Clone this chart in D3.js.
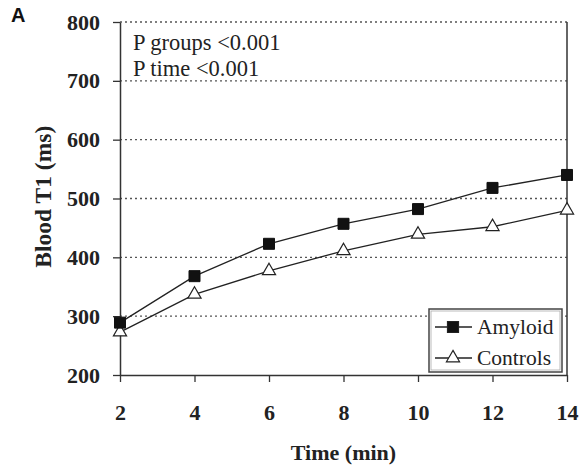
<!DOCTYPE html>
<html>
<head>
<meta charset="utf-8">
<script src="https://d3js.org/d3.v7.min.js"></script>
<style>
  body { margin: 0; background: #fff; }
</style>
</head>
<body>
<div id="chart"></div>
<script>
// data
const times = [2, 4, 6, 8, 10, 12, 14];
const amyloid = [289, 368, 423, 457, 482, 518, 540];
const controls = [273, 337, 377, 411, 439, 452, 480];
const yTicks = [200, 300, 400, 500, 600, 700, 800];
const notes = ["P groups <0.001", "P time <0.001"];

const W = 582, H = 465;
const m = {left: 120, right: 15, top: 22, bottom: 90};

const svg = d3.select("#chart").append("svg")
  .attr("width", W).attr("height", H);

const x = d3.scaleLinear().domain([2, 14]).range([m.left, W - m.right]);
const y = d3.scaleLinear().domain([200, 800]).range([H - m.bottom, m.top]);

// dotted grid
svg.append("g").selectAll("line")
  .data(yTicks.filter(v => v > 200))
  .join("line")
  .attr("x1", x(2)).attr("x2", x(14))
  .attr("y1", d => y(d)).attr("y2", d => y(d))
  .attr("stroke", "#555").attr("stroke-width", 1.3)
  .attr("stroke-dasharray", "2,3");

// right frame line
svg.append("line")
  .attr("x1", x(14)).attr("x2", x(14))
  .attr("y1", y(800)).attr("y2", y(200))
  .attr("stroke", "#333").attr("stroke-width", 1.5);

const tickFont = "'Liberation Serif', 'Times New Roman', serif";

const yAxis = svg.append("g")
  .attr("transform", `translate(${m.left},0)`)
  .call(d3.axisLeft(y).tickValues(yTicks).tickSize(7).tickPadding(13).tickSizeOuter(0));

const xAxis = svg.append("g")
  .attr("transform", `translate(0,${y(200)})`)
  .call(d3.axisBottom(x).tickValues(times).tickSize(7).tickPadding(22).tickSizeOuter(0));

[yAxis, xAxis].forEach(a => {
  a.select(".domain").attr("stroke", "#333").attr("stroke-width", 1.5);
  a.selectAll(".tick line").attr("stroke", "#333").attr("stroke-width", 1.3);
  a.selectAll("text")
    .attr("font-family", tickFont)
    .attr("font-weight", "bold")
    .attr("font-size", 22)
    .attr("fill", "#222");
});

// lines
const line = d3.line().x((d, i) => x(times[i])).y(d => y(d));

svg.append("path").datum(amyloid)
  .attr("d", line).attr("fill", "none")
  .attr("stroke", "#222").attr("stroke-width", 1.3);
svg.append("path").datum(controls)
  .attr("d", line).attr("fill", "none")
  .attr("stroke", "#222").attr("stroke-width", 1.3);

const sq = d3.symbol().type(d3.symbolSquare).size(121);
const tri = d3.symbol().type(d3.symbolTriangle).size(75);

svg.append("g").selectAll("path")
  .data(controls).join("path")
  .attr("d", tri)
  .attr("transform", (d, i) => `translate(${x(times[i])},${y(d)})`)
  .attr("fill", "#fff").attr("stroke", "#222").attr("stroke-width", 1.2);

svg.append("g").selectAll("path")
  .data(amyloid).join("path")
  .attr("d", sq)
  .attr("transform", (d, i) => `translate(${x(times[i])},${y(d)})`)
  .attr("fill", "#111").attr("stroke", "#111");

// annotations
svg.append("g").selectAll("text")
  .data(notes).join("text")
  .attr("x", 133)
  .attr("y", (d, i) => 50 + i * 26)
  .attr("font-family", tickFont)
  .attr("font-size", 22.5)
  .attr("fill", "#222")
  .text(d => d);

// legend
const lg = svg.append("g").attr("transform", "translate(429,309)");
lg.append("rect")
  .attr("width", 133).attr("height", 63)
  .attr("fill", "#fff").attr("stroke", "#444").attr("stroke-width", 1.5);
lg.append("rect")
  .attr("x", 2).attr("y", 2)
  .attr("width", 129).attr("height", 59)
  .attr("fill", "none").attr("stroke", "#aaa").attr("stroke-width", 0.8);

const items = [{name: "Amyloid", sym: sq, fill: "#111"}, {name: "Controls", sym: tri, fill: "#fff"}];
items.forEach((it, i) => {
  const cy = 18 + i * 31;
  lg.append("line")
    .attr("x1", 6).attr("x2", 43).attr("y1", cy).attr("y2", cy)
    .attr("stroke", "#222").attr("stroke-width", 1.3);
  lg.append("path")
    .attr("d", it.sym)
    .attr("transform", `translate(24,${cy})`)
    .attr("fill", it.fill).attr("stroke", "#222").attr("stroke-width", 1.2);
  lg.append("text")
    .attr("x", 48).attr("y", cy + 7)
    .attr("font-family", tickFont)
    .attr("font-size", 21.5)
    .attr("fill", "#222")
    .text(it.name);
});

// axis titles
svg.append("text")
  .attr("x", (x(2) + x(14)) / 2).attr("y", 460)
  .attr("text-anchor", "middle")
  .attr("font-family", tickFont)
  .attr("font-weight", "bold").attr("font-size", 22)
  .attr("fill", "#222")
  .text("Time (min)");

svg.append("text")
  .attr("transform", `translate(51,${y(503)}) rotate(-90)`)
  .attr("text-anchor", "middle")
  .attr("font-family", tickFont)
  .attr("font-weight", "bold").attr("font-size", 23.5)
  .attr("fill", "#222")
  .text("Blood T1 (ms)");

// panel letter
svg.append("text")
  .attr("x", 11).attr("y", 22)
  .attr("font-family", "'Liberation Sans', Arial, sans-serif")
  .attr("font-weight", "bold").attr("font-size", 20)
  .attr("fill", "#111")
  .text("A");
</script>
</body>
</html>
